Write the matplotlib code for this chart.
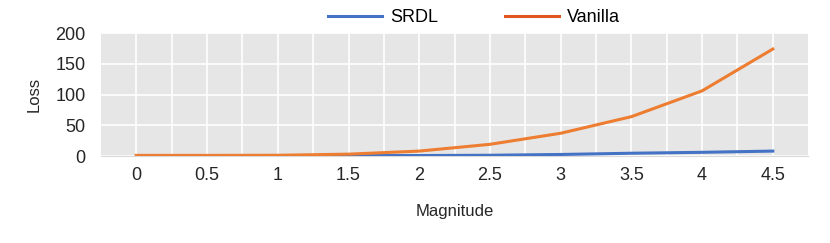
import matplotlib.pyplot as plt
import numpy as np

plt.rcParams['font.family'] = ['Liberation Sans', 'DejaVu Sans']

# -----------------------------
# Data
# -----------------------------
magnitude = ['0', '0.5', '1', '1.5', '2', '2.5', '3', '3.5', '4', '4.5']
srdl = [0.5, 0.5, 0.5, 0.6, 0.8, 1.2, 2.5, 4.5, 6.0, 8.0]
vanilla = [1.0, 1.0, 1.2, 3.0, 8.0, 19.0, 37.0, 64.0, 106.0, 174.0]

# -----------------------------
# Plot
# -----------------------------
fig = plt.figure(figsize=(8.3, 2.43), dpi=100)
ax = fig.add_axes([0.1217, 0.358, 0.852, 0.506])
ax.set_facecolor('#e6e6e6')

x = np.arange(len(magnitude))
ax.plot(x, srdl, color='#4472C4', lw=2.2, label='SRDL', zorder=3)
ax.plot(x, vanilla, color='#ED7D31', lw=2.2, label='Vanilla', zorder=3)

ax.set_xlim(-0.5, len(magnitude) - 0.5)
ax.set_ylim(0, 200)
ax.set_yticks([0, 50, 100, 150, 200])
ax.set_xticks(x)
ax.set_xticklabels(magnitude)
ax.set_xticks(x[:-1] + 0.5, minor=True)

ax.grid(True, which='both', color='white', lw=1.2, zorder=1)
ax.set_axisbelow(True)
ax.tick_params(which='both', length=0, labelsize=13, colors='#262626', pad=8)
ax.tick_params(axis='y', pad=11)
for s in ['top', 'right', 'left']:
    ax.spines[s].set_visible(False)
ax.spines['bottom'].set_color('#d9d9d9')

ax.set_xlabel('Magnitude', fontsize=12, color='#262626', labelpad=14)
ax.set_ylabel('Loss', fontsize=12, color='#262626', labelpad=10)

leg = fig.legend(loc='upper center', bbox_to_anchor=(0.571, 1.03), ncol=2, frameon=False,
                 fontsize=13, handlelength=3.0, columnspacing=3.7, handletextpad=0.45)
leg.get_lines()[1].set_color('#E0561E')

plt.savefig('out.png')
